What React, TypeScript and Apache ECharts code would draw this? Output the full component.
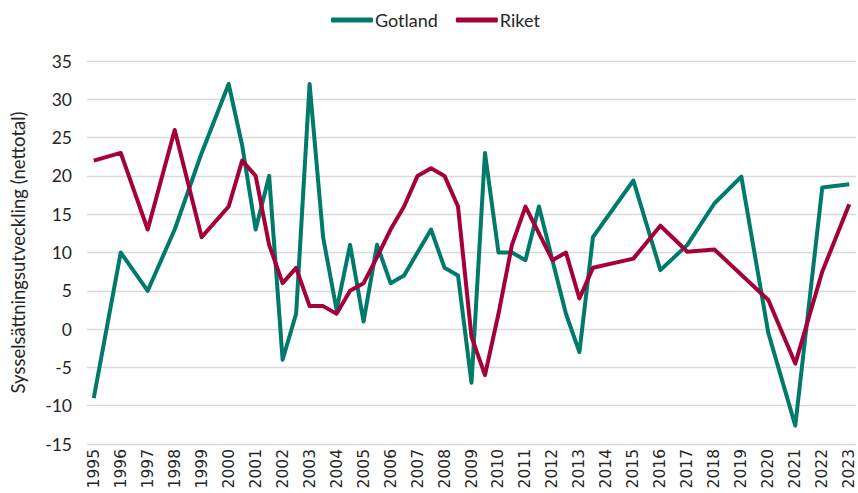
import React, { useEffect, useRef } from "react";
import * as echarts from "echarts";

// Half-year categories 1995 .. 2023 (label shown on whole years)
const years: number[] = [];
for (let y = 1995; y <= 2023; y++) years.push(y);
const categories: string[] = [];
years.forEach((y) => {
  categories.push(String(y));
  if (y < 2023) categories.push(y + " H2");
});

const gotland: (number | null)[] = [
  -9, null, 10, null, 5, null, 13, null, 23, null, // 1995-1999
  32, 24, 13, 20, -4, 2, 32, 12, 2.5, 11, // 2000-2004.5
  1, 11, 6, 7, 10, 13, 8, 7, -7, 23, // 2005-2009.5
  10, 10, 9, 16, 9, 2, -3, 12, null, null, // 2010-2014.5
  19.4, null, 7.7, null, 11, null, 16.4, null, 19.9, null, // 2015-2019.5
  -0.5, null, -12.6, null, 18.5, null, 18.9, // 2020-2023
];

const riket: (number | null)[] = [
  22, null, 23, null, 13, null, 26, null, 12, null,
  16, 22, 20, 11, 6, 8, 3, 3, 2, 5,
  6, 9.4, 13, 16, 20, 21, 20, 16, -1, -6,
  2, 11, 16, 12.5, 9, 10, 4, 8, null, null,
  9.2, null, 13.5, null, 10.1, null, 10.4, null, null, null,
  3.8, null, -4.5, null, 7.5, null, 16.3,
];

const yTicks = { min: -15, max: 35, interval: 5 };

const GREEN = "#007a6b";
const RED = "#a50039";
const TEXT = "#262626";

export default function App() {
  const ref = useRef<HTMLDivElement>(null);
  useEffect(() => {
    if (!ref.current) return;
    const chart = echarts.init(ref.current, null, { renderer: "svg" });
    chart.setOption({
      animation: false,
      textStyle: { fontFamily: "Lato, 'Noto Sans', sans-serif" },
      legend: {
        top: 6,
        left: 326,
        itemWidth: 42,
        itemHeight: 5,
        itemGap: 18,
        icon: "roundRect",
        textStyle: { fontSize: 18, color: TEXT, fontFamily: "Lato, sans-serif", padding: [0, 0, 0, -3] },
        data: ["Gotland", "Riket"],
      },
      grid: { left: 84, right: 2, top: 61, bottom: 49, containLabel: false },
      xAxis: {
        type: "category",
        data: categories,
        boundaryGap: true,
        axisLine: { show: false },
        axisTick: { show: false },
        axisLabel: {
          interval: 1,
          rotate: 90,
          margin: 5,
          fontSize: 15.5,
          lineHeight: 13,
          color: TEXT,
          fontFamily: "'DejaVu Sans', Verdana, sans-serif",
          formatter: (v: string) => (v.indexOf("H2") >= 0 ? "" : v),
        },
      },
      yAxis: {
        type: "value",
        min: yTicks.min,
        max: yTicks.max,
        interval: yTicks.interval,
        name: "Sysselsättningsutveckling (nettotal)",
        nameLocation: "middle",
        nameGap: 60,
        nameRotate: 90,
        nameTextStyle: { fontSize: 18.5, color: TEXT, fontFamily: "Lato, sans-serif" },
        axisLine: { show: false },
        axisTick: { show: false },
        axisLabel: { fontSize: 17.5, color: TEXT, margin: 15, fontFamily: "Lato, sans-serif" },
        splitLine: { lineStyle: { color: "#d9d9d9", width: 1.3 } },
      },
      series: [
        {
          name: "Gotland",
          type: "line",
          data: gotland,
          connectNulls: true,
          showSymbol: false,
          symbol: "none",
          lineStyle: { color: GREEN, width: 4, join: "round" },
          itemStyle: { color: GREEN },
        },
        {
          name: "Riket",
          type: "line",
          data: riket,
          connectNulls: true,
          showSymbol: false,
          symbol: "none",
          lineStyle: { color: RED, width: 4, join: "round" },
          itemStyle: { color: RED },
        },
      ],
    });
    return () => chart.dispose();
  }, []);
  return (
    <div
      ref={ref}
      style={{ position: "absolute", left: 0, top: 0, width: 858, height: 493, background: "#fff" }}
    />
  );
}
